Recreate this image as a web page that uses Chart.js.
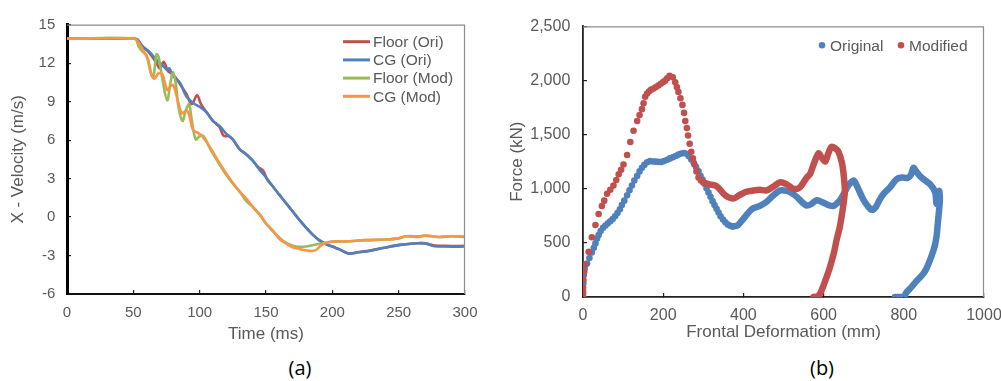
<!DOCTYPE html>
<html>
<head>
<meta charset="utf-8">
<script src="https://cdn.jsdelivr.net/npm/chart.js@4.4.1/dist/chart.umd.min.js"></script>
<style>
  body { margin: 0; background: #fff; width: 1001px; height: 381px; overflow: hidden; position: relative; }
  .box { position: absolute; top: 0; }
  .cap { position: absolute; top: 354px; font-family: "Open Sans", "Liberation Sans", sans-serif; font-size: 20px; color: #000; transform: translateX(-50%); }
</style>
</head>
<body>
<div class="box" style="left:0;width:490px;height:350px"><canvas id="velChart" width="490" height="350"></canvas></div>
<div class="box" style="left:490px;width:511px;height:350px"><canvas id="forceChart" width="511" height="350"></canvas></div>
<div class="cap" style="left:300px">(a)</div>
<div class="cap" style="left:822px">(b)</div>
<script>
// ---- (a) velocidad en X ----
const floorOriT = [0, 50, 53, 57, 62, 67, 70, 73, 76, 80, 85, 90, 94, 98, 101, 105, 110, 115, 118, 122, 125, 130, 135, 140, 144, 148, 151, 155, 160, 165, 170, 175, 180, 185, 190, 195, 200, 205, 212, 220, 226, 238, 251, 264, 270, 276, 285, 300];
const floorOriV = [13.9, 13.9, 13.85, 13.3, 12.8, 12.1, 11.6, 12.1, 11.4, 11.1, 10.4, 9.6, 8.8, 9.5, 8.8, 8.2, 7.5, 7.0, 6.35, 6.3, 6.05, 5.3, 4.9, 4.4, 3.9, 3.6, 2.9, 2.4, 1.75, 1.1, 0.45, -0.2, -0.8, -1.35, -1.8, -2.1, -2.3, -2.5, -2.84, -2.72, -2.65, -2.42, -2.17, -2.04, -2.05, -2.2, -2.25, -2.25];

const cgOriT = [0, 50, 53, 57, 62, 67, 72, 75, 77, 80, 85, 90, 95, 100, 105, 110, 115, 120, 125, 130, 135, 140, 145, 150, 155, 160, 165, 170, 175, 180, 185, 190, 195, 200, 205, 212, 220, 226, 238, 251, 264, 270, 276, 285, 300];
const cgOriV = [13.9, 13.9, 13.85, 13.3, 12.9, 12.3, 11.85, 11.5, 11.6, 11.0, 10.5, 9.4, 8.9, 8.6, 8.2, 7.5, 7.1, 6.5, 6.05, 5.3, 4.9, 4.4, 3.7, 3.1, 2.4, 1.75, 1.1, 0.45, -0.2, -0.8, -1.35, -1.8, -2.1, -2.3, -2.5, -2.84, -2.75, -2.68, -2.42, -2.17, -2.04, -2.05, -2.25, -2.3, -2.3];

const floorModT = [0, 51, 54, 57, 60, 63, 65, 67.5, 69, 72, 75.5, 78, 80, 82, 84, 87, 89.5, 92, 94, 97, 100, 103, 108, 115, 120, 125, 130, 135.5, 140, 145, 150, 155, 160, 165, 170.6, 175, 180, 185, 190, 195.8, 200, 210, 225, 240, 250, 256, 265, 270, 280, 290, 300];
const floorModV = [13.9, 13.9, 13.3, 12.9, 12.6, 11.3, 10.9, 12.7, 12.5, 10.7, 9.1, 10.5, 11.3, 10.4, 8.6, 7.5, 8.3, 8.8, 7.6, 6.05, 6.3, 6.3, 5.3, 4.1, 3.3, 2.6, 2.0, 1.2, 0.8, 0.2, -0.5, -1.1, -1.6, -2.0, -2.25, -2.32, -2.3, -2.2, -2.1, -2.0, -1.9, -1.9, -1.8, -1.75, -1.66, -1.5, -1.5, -1.45, -1.55, -1.5, -1.55];

const cgModT = [0, 51, 54, 58, 61, 64, 66, 69, 72, 75.5, 78, 80, 83, 86.5, 90, 92, 95, 99, 102, 108, 115, 120, 125.5, 130, 135.5, 140, 145.6, 150, 155.6, 160, 165.6, 170, 175.7, 180, 185, 188, 191, 195, 200, 210, 225, 240, 250, 256, 265, 270, 280, 290, 300];
const cgModV = [13.9, 13.9, 13.6, 12.9, 12.3, 11.0, 10.8, 11.2, 11.1, 9.9, 10.2, 10.3, 9.3, 8.1, 8.3, 8.0, 6.8, 6.55, 6.3, 5.4, 4.2, 3.4, 2.6, 2.0, 1.4, 0.8, 0.18, -0.5, -1.1, -1.7, -2.1, -2.35, -2.5, -2.6, -2.65, -2.55, -2.25, -2.0, -1.9, -1.9, -1.8, -1.75, -1.66, -1.5, -1.55, -1.45, -1.55, -1.5, -1.52];

const velLabels = ["Floor (Ori)", "CG (Ori)", "Floor (Mod)", "CG (Mod)"];
const velColors = ["#C0504D", "#4F81BD", "#9BBB59", "#F79646"];

// ---- (b) fuerza vs deformacion ----
const origDotD = [0, 0, 0, 1, 2, 4, 10, 16, 22, 27, 31, 35, 39, 44, 50, 56, 62, 68, 74, 80, 86, 92, 97, 103, 110, 116, 122, 128, 135, 141, 147, 153, 160, 167, 174, 181, 188, 195, 202, 210, 217, 224, 231, 238, 245, 252, 258, 264, 270, 276, 282, 288, 293, 298, 303, 308, 313, 318, 323, 328, 333, 338, 343, 349, 355, 361, 367, 373];
const origDotF = [0, 30, 60, 125, 200, 260, 310, 360, 411, 455, 495, 540, 573, 610, 640, 660, 680, 700, 720, 745, 775, 810, 850, 890, 939, 985, 1029, 1075, 1118, 1160, 1193, 1220, 1245, 1255, 1252, 1250, 1248, 1247, 1255, 1268, 1280, 1290, 1302, 1315, 1325, 1330, 1322, 1300, 1270, 1240, 1200, 1160, 1120, 1085, 1045, 1005, 965, 925, 885, 850, 815, 780, 745, 715, 690, 670, 657, 652];
const origLineD = [373, 385, 395, 405, 415, 425, 440, 458, 475, 492, 508, 520, 533, 545, 558, 570, 583, 600, 615, 625, 635, 641, 650, 660, 670, 676, 685, 699, 710, 720, 730, 740, 750, 765, 782, 795, 810, 818, 824, 830, 840, 852, 865, 878, 882, 888, 890, 888, 884, 882, 877, 870, 862, 853, 843, 832, 820, 807, 799, 778];
const origLineF = [652, 660, 700, 745, 790, 820, 840, 880, 940, 984, 980, 960, 925, 880, 845, 860, 894, 870, 845, 841, 870, 894, 950, 1020, 1065, 1073, 1010, 900, 840, 805, 830, 900, 954, 1010, 1088, 1103, 1100, 1130, 1193, 1165, 1118, 1080, 1044, 969, 860, 980, 900, 805, 650, 567, 470, 388, 310, 239, 190, 149, 95, 45, 0, 0];

const modDotD = [0, 0, 0, 1, 3, 6, 14, 22, 31, 39, 47, 53, 60, 68, 76, 83, 89, 95, 101, 110, 118, 126, 135, 141, 147, 151, 155, 160, 165, 170, 176, 182, 188, 194, 200, 205, 210, 216, 224, 230, 234, 238, 243, 248, 252, 255, 259, 262, 266, 270, 274, 278, 283, 288, 294, 300];
const modDotF = [0, 40, 84, 156, 230, 299, 418, 552, 665, 766, 841, 890, 954, 990, 1029, 1080, 1133, 1175, 1223, 1312, 1431, 1536, 1625, 1680, 1735, 1790, 1849, 1880, 1900, 1915, 1925, 1940, 1953, 1970, 1985, 1998, 2020, 2043, 2030, 1983, 1940, 1894, 1835, 1774, 1700, 1625, 1560, 1491, 1415, 1342, 1280, 1223, 1160, 1104, 1075, 1059];
const modLineD = [300, 315, 330, 340, 355, 375, 390, 405, 425, 440, 458, 475, 492, 508, 525, 540, 558, 566, 575, 587, 595, 604, 612, 620, 630, 637, 645, 649, 653, 650, 645, 640, 633, 627, 620, 612, 604, 597, 591, 585, 575];
const modLineF = [1059, 1040, 1029, 1000, 939, 910, 940, 970, 984, 990, 984, 1020, 1059, 1040, 999, 1010, 1104, 1133, 1223, 1327, 1290, 1252, 1330, 1387, 1370, 1342, 1250, 1163, 984, 870, 746, 640, 537, 430, 328, 230, 149, 80, 30, 6, 0];

const forceLabels = ["Original", "Modified"];
const forceColors = ["#4F81BD", "#C0504D"];

const FONT = "'Liberation Sans', Arial, sans-serif";
const GRAY = "#595959";

function pts(xs, ys) {
    return xs.map((x, i) => ({ x: x, y: ys[i] }));
}

// marco gris arriba y a la derecha
const framePlugin = {
    id: "frame",
    afterDatasetsDraw(chart) {
        const { ctx, chartArea: a } = chart;
        ctx.save();
        ctx.strokeStyle = "#8c8c8c";
        ctx.lineWidth = 1.2;
        ctx.beginPath();
        ctx.moveTo(a.left, a.top + 0.5);
        ctx.lineTo(a.right - 0.5, a.top + 0.5);
        ctx.lineTo(a.right - 0.5, a.bottom);
        ctx.stroke();
        ctx.restore();
    }
};

// leyenda dentro del area (a)
const velLegend = {
    id: "velLegend",
    afterDraw(chart) {
        const { ctx, chartArea: a } = chart;
        ctx.save();
        ctx.font = "15.5px " + FONT;
        ctx.textBaseline = "middle";
        ctx.fillStyle = GRAY;
        velLabels.forEach((lab, i) => {
            const y = a.top + 17 + i * 18.2;
            ctx.strokeStyle = velColors[i];
            ctx.lineWidth = 3;
            ctx.beginPath();
            ctx.moveTo(a.right - 122, y);
            ctx.lineTo(a.right - 95, y);
            ctx.stroke();
            ctx.fillText(lab, a.right - 92, y + 1);
        });
        ctx.restore();
    }
};

// leyenda dentro del area (b)
const forceLegend = {
    id: "forceLegend",
    afterDraw(chart) {
        const { ctx, chartArea: a } = chart;
        ctx.save();
        ctx.font = "15.5px " + FONT;
        ctx.textBaseline = "middle";
        const xs = [a.right - 162, a.right - 83];
        forceLabels.forEach((lab, i) => {
            const y = a.top + 19;
            ctx.fillStyle = forceColors[i];
            ctx.beginPath();
            ctx.arc(xs[i], y, 3.3, 0, Math.PI * 2);
            ctx.fill();
            ctx.fillStyle = GRAY;
            ctx.fillText(lab, xs[i] + 8, y + 1);
        });
        ctx.restore();
    }
};

function lineSet(xs, ys, idx, order) {
    return {
        label: velLabels[idx],
        data: pts(xs, ys),
        showLine: true,
        borderColor: velColors[idx],
        borderWidth: 2.6,
        pointRadius: 0,
        tension: 0.35,
        order: order
    };
}

new Chart(document.getElementById("velChart"), {
    type: "scatter",
    data: {
        datasets: [
            lineSet(floorOriT, floorOriV, 0, 4),
            lineSet(cgOriT, cgOriV, 1, 3),
            lineSet(floorModT, floorModV, 2, 2),
            lineSet(cgModT, cgModV, 3, 1)
        ]
    },
    options: {
        responsive: false,
        animation: false,
        layout: { padding: { top: 20, right: 25, left: 0, bottom: 0 } },
        plugins: { legend: { display: false }, tooltip: { enabled: false } },
        scales: {
            x: {
                type: "linear", min: 0, max: 300,
                ticks: { stepSize: 50, color: GRAY, font: { family: FONT, size: 15 }, padding: 14, maxRotation: 0 },
                grid: { drawOnChartArea: false, drawTicks: true, tickLength: -4, color: "#222", lineWidth: 1.2 },
                border: { display: true, color: "#111", width: 2 },
                title: { display: true, text: "Time (ms)", color: GRAY, font: { family: FONT, size: 17 }, padding: { top: 0, bottom: 5 } },
                afterFit(s) { s.height = 56; s.paddingLeft = 0; s.paddingRight = 0; }
            },
            y: {
                min: -6, max: 15,
                ticks: { stepSize: 3, color: GRAY, font: { family: FONT, size: 15 }, padding: 15.7 },
                grid: { drawOnChartArea: false, drawTicks: true, tickLength: -4, color: "#222", lineWidth: 1.2 },
                border: { display: true, color: "#000", width: 3 },
                title: { display: true, text: "X - Velocity (m/s)", color: GRAY, font: { family: FONT, size: 17 }, padding: { top: 8, bottom: 0 } },
                afterFit(s) { s.width = 67; }
            }
        }
    },
    plugins: [framePlugin, velLegend]
});

function dotSet(xs, ys, idx, order) {
    return {
        label: forceLabels[idx],
        data: pts(xs, ys),
        backgroundColor: forceColors[idx],
        borderWidth: 0,
        pointRadius: 3.3,
        order: order
    };
}

function thickSet(xs, ys, idx, order) {
    return {
        label: forceLabels[idx],
        data: pts(xs, ys),
        showLine: true,
        borderColor: forceColors[idx],
        borderWidth: 6.5,
        borderCapStyle: "round",
        borderJoinStyle: "round",
        pointRadius: 0,
        tension: 0.3,
        order: order
    };
}

new Chart(document.getElementById("forceChart"), {
    type: "scatter",
    data: {
        datasets: [
            dotSet(origDotD, origDotF, 0, 4),
            thickSet(origLineD, origLineF, 0, 3),
            dotSet(modDotD, modDotF, 1, 2),
            thickSet(modLineD, modLineF, 1, 1)
        ]
    },
    options: {
        responsive: false,
        animation: false,
        layout: { padding: { top: 17, right: 17, left: 0, bottom: 0 } },
        plugins: { legend: { display: false }, tooltip: { enabled: false } },
        scales: {
            x: {
                type: "linear", min: 0, max: 1000,
                ticks: { stepSize: 200, color: GRAY, font: { family: FONT, size: 16 }, padding: 13.4, maxRotation: 0,
                         callback: v => String(v) },
                grid: { drawOnChartArea: false, drawTicks: true, tickLength: -4, color: "#222", lineWidth: 1.2 },
                border: { display: true, color: "#222", width: 1.8 },
                title: { display: true, text: "Frontal Deformation (mm)", color: GRAY, font: { family: FONT, size: 17 }, padding: { top: 0, bottom: 7 } },
                afterFit(s) { s.height = 53; s.paddingLeft = 0; s.paddingRight = 0; }
            },
            y: {
                min: 0, max: 2500,
                ticks: { stepSize: 500, color: GRAY, font: { family: FONT, size: 16 }, padding: 16.7,
                         callback: v => v.toLocaleString("en-US") },
                grid: { drawOnChartArea: false, drawTicks: true, tickLength: -4, color: "#222", lineWidth: 1.2 },
                border: { display: true, color: "#222", width: 1.8 },
                title: { display: true, text: "Force (kN)", color: GRAY, font: { family: FONT, size: 17 }, padding: { top: 17, bottom: 0 } },
                afterFit(s) { s.width = 93; }
            }
        }
    },
    plugins: [framePlugin, forceLegend]
});
</script>
</body>
</html>
